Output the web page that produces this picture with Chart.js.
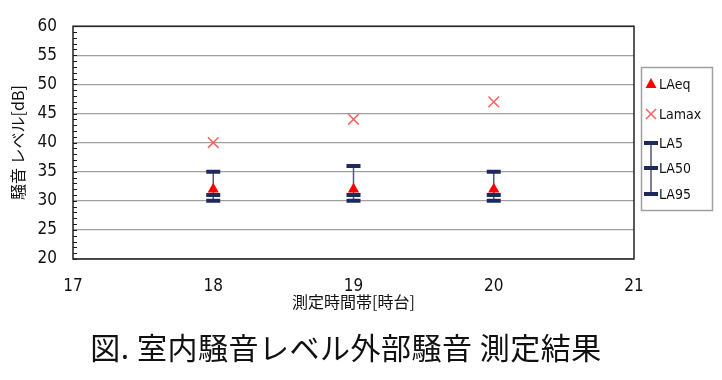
<!DOCTYPE html>
<html>
<head>
<meta charset="utf-8">
<script src="https://cdn.jsdelivr.net/npm/chart.js@4.4.0/dist/chart.umd.min.js"></script>
<style>
html, body { margin: 0; padding: 0; background: #fff; }
#wrap { position: relative; width: 722px; height: 380px; }
#caption {
    position: absolute; left: 0; top: 326px; width: 692px;
    text-align: center; font-family: 'Noto Sans CJK JP', sans-serif;
    font-size: 30px; line-height: 40px; color: #111; letter-spacing: 0.5px;
}
</style>
</head>
<body>
<div id="wrap">
    <canvas id="chart" width="722" height="380"></canvas>
    <div id="caption">図. 室内騒音レベル外部騒音 測定結果</div>
</div>
<script>
// measured values per hour band
const hours = [18, 19, 20]
const laeq = [32, 32, 32]
const lamax = [40, 44, 47]
const la5 = [35, 36, 35]
const la50 = [31, 31, 31]
const la95 = [30, 30, 30]

const tickFont = { family: "'DejaVu Sans Condensed', sans-serif", size: 17 }
const jpFont = { family: "'Noto Sans CJK JP', sans-serif", size: 16 }
const navy = '#1c2a5c'
const stemColor = '#55557a'

const pts = arr => hours.map((h, i) => ({ x: h, y: arr[i] }))

// vertical stem LA5 -> LA95, frame and inner minor ticks
const errorBarPlugin = {
    id: 'errorBars',
    beforeDatasetsDraw(chart) {
        const { ctx, chartArea, scales: { x, y } } = chart
        ctx.save()
        ctx.strokeStyle = '#1a1a1a'
        ctx.lineWidth = 1
        for (let v = 20; v <= 60; v++) {
            const py = Math.round(y.getPixelForValue(v)) + 0.5
            ctx.beginPath()
            ctx.moveTo(chartArea.left, py)
            ctx.lineTo(chartArea.left + 4, py)
            ctx.stroke()
        }
        ctx.lineWidth = 1.5
        ctx.strokeStyle = '#222'
        ctx.strokeRect(chartArea.left, chartArea.top, chartArea.right - chartArea.left, chartArea.bottom - chartArea.top)
        ctx.strokeStyle = stemColor
        ctx.lineWidth = 1.5
        hours.forEach((h, i) => {
            const px = x.getPixelForValue(h)
            ctx.beginPath()
            ctx.moveTo(px, y.getPixelForValue(la5[i]))
            ctx.lineTo(px, y.getPixelForValue(la95[i]))
            ctx.stroke()
        })
        ctx.restore()
    }
}

// boxed legend on the right
const legendPlugin = {
    id: 'boxLegend',
    afterDraw(chart) {
        const { ctx } = chart
        ctx.save()
        ctx.fillStyle = '#fff'
        ctx.fillRect(641, 67, 72, 144)
        ctx.strokeStyle = '#a0a0a0'
        ctx.lineWidth = 1.5
        ctx.strokeRect(641.5, 67.5, 71, 143)
        // LAeq triangle
        ctx.fillStyle = '#ff0000'
        ctx.beginPath()
        ctx.moveTo(651, 78)
        ctx.lineTo(656.5, 88)
        ctx.lineTo(645.5, 88)
        ctx.closePath()
        ctx.fill()
        // Lamax cross
        ctx.strokeStyle = '#ff6060'
        ctx.lineWidth = 1.5
        ctx.beginPath()
        ctx.moveTo(646, 109); ctx.lineTo(656, 119)
        ctx.moveTo(656, 109); ctx.lineTo(646, 119)
        ctx.stroke()
        // LA5 / LA50 / LA95 stem and caps
        ctx.strokeStyle = stemColor
        ctx.beginPath()
        ctx.moveTo(651, 143); ctx.lineTo(651, 194)
        ctx.stroke()
        ctx.strokeStyle = navy
        ctx.lineWidth = 4
        ;[143, 168, 194].forEach(py => {
            ctx.beginPath()
            ctx.moveTo(644, py); ctx.lineTo(658, py)
            ctx.stroke()
        })
        ctx.fillStyle = '#111'
        ctx.font = "14px 'DejaVu Sans Condensed', sans-serif"
        ctx.textBaseline = 'middle'
        const labels = [['LAeq', 84], ['Lamax', 114], ['LA5', 143], ['LA50', 168], ['LA95', 194]]
        labels.forEach(([t, py]) => ctx.fillText(t, 659, py + 1))
        ctx.restore()
    }
}

const capSet = (label, arr) => ({
    label: label,
    data: pts(arr),
    pointStyle: 'line',
    radius: 7,
    borderWidth: 4,
    borderColor: navy,
    backgroundColor: navy,
    order: 0
})

new Chart(document.getElementById('chart'), {
    type: 'scatter',
    data: {
        datasets: [
            {
                label: 'LAeq',
                data: pts(laeq),
                pointStyle: 'triangle',
                radius: 6.5,
                borderWidth: 0,
                backgroundColor: '#ff0000',
                borderColor: '#ff0000',
                order: 1
            },
            {
                label: 'Lamax',
                data: pts(lamax),
                pointStyle: 'crossRot',
                radius: 7.5,
                borderWidth: 1.5,
                borderColor: '#ff6060',
                backgroundColor: '#ff6060',
                order: 2
            },
            capSet('LA5', la5),
            capSet('LA50', la50),
            capSet('LA95', la95)
        ]
    },
    options: {
        responsive: false,
        animation: false,
        events: [],
        layout: { padding: { top: 23, right: 88, left: 0, bottom: 0 } },
        plugins: {
            legend: { display: false },
            tooltip: { enabled: false }
        },
        scales: {
            x: {
                type: 'linear',
                min: 17,
                max: 21,
                afterFit(scale) { scale.height = 121 },
                ticks: { stepSize: 1, font: tickFont, color: '#111', padding: 17 },
                grid: { display: false, drawTicks: false },
                border: { display: false },
                title: { display: true, text: '測定時間帯[時台]', font: jpFont, color: '#111', padding: { top: 0, bottom: 68 } }
            },
            y: {
                min: 20,
                max: 60,
                afterFit(scale) { scale.width = 73 },
                ticks: { stepSize: 5, font: tickFont, color: '#111', padding: 16 },
                grid: { color: '#a0a0a0', lineWidth: 1.2, drawTicks: false },
                border: { display: false },
                title: { display: true, text: '騒音 レベル[dB]', font: jpFont, color: '#111', padding: { top: 8, bottom: 0 } }
            }
        }
    },
    plugins: [errorBarPlugin, legendPlugin]
})
</script>
</body>
</html>
